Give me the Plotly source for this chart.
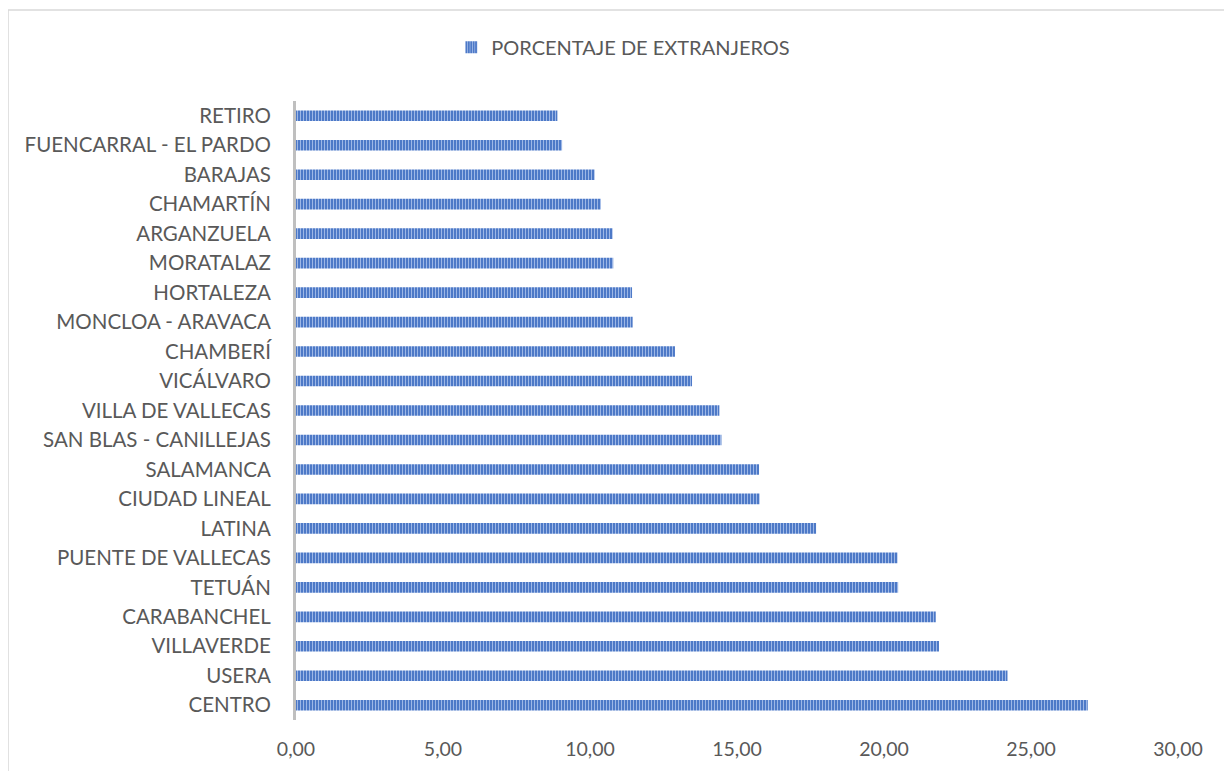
import plotly.graph_objects as go

# Districts listed top to bottom as in the chart
districts = [
    "RETIRO", "FUENCARRAL - EL PARDO", "BARAJAS", "CHAMARTÍN", "ARGANZUELA",
    "MORATALAZ", "HORTALEZA", "MONCLOA - ARAVACA", "CHAMBERÍ", "VICÁLVARO",
    "VILLA DE VALLECAS", "SAN BLAS - CANILLEJAS", "SALAMANCA", "CIUDAD LINEAL",
    "LATINA", "PUENTE DE VALLECAS", "TETUÁN", "CARABANCHEL", "VILLAVERDE",
    "USERA", "CENTRO",
]
pct_foreign = [
    8.89, 9.05, 10.16, 10.37, 10.77,
    10.79, 11.43, 11.45, 12.89, 13.47,
    14.40, 14.47, 15.75, 15.77,
    17.69, 20.46, 20.48, 21.76, 21.87,
    24.20, 26.93,
]
x_ticks = [0, 5, 10, 15, 20, 25, 30]

FONT = "Lato, 'Open Sans', Arial, sans-serif"
GREY = "#595959"

fig = go.Figure()
fig.add_trace(
    go.Bar(
        x=pct_foreign,
        y=districts,
        orientation="h",
        name="PORCENTAJE DE EXTRANJEROS",
        marker=dict(
            color="#4472C4",
            line=dict(width=0),
            pattern=dict(shape="|", size=3, solidity=0.4,
                         fgcolor="#9DB7E6", fgopacity=1),
        ),
        hoverinfo="x+y",
    )
)

# outer chart frame (partly cropped in the original)
fig.add_shape(
    type="rect", xref="paper", yref="paper",
    x0=-0.3265, x1=1.08, y0=-0.1, y1=1.147,
    line=dict(color="#D9D9D9", width=1.5), fillcolor="rgba(0,0,0,0)",
    layer="below",
)

# page body adds an 8px offset, margins are reduced to compensate
fig.update_layout(
    width=1232,
    height=771,
    margin=dict(l=288, r=62, t=93, b=59),
    plot_bgcolor="white",
    paper_bgcolor="white",
    font=dict(family=FONT, size=20, color=GREY),
    separators=",.",
    bargap=0.64,
    showlegend=True,
    legend=dict(
        orientation="h",
        x=0.371, xanchor="center",
        y=1.087, yanchor="middle",
        font=dict(size=20, color=GREY),
        itemwidth=30,
    ),
    xaxis=dict(
        range=[0, 30],
        tickvals=x_ticks,
        tickformat=".2f",
        showgrid=False,
        zeroline=False,
        showline=False,
        ticks="",
        ticklabelstandoff=15,
        tickfont=dict(size=19.5, color=GREY),
    ),
    yaxis=dict(
        autorange="reversed",
        showgrid=False,
        showline=True,
        linecolor="#BFBFBF",
        linewidth=3,
        ticks="",
        ticklabelstandoff=18,
        tickfont=dict(size=20.5, color=GREY),
    ),
)

fig.write_html("out.html")
